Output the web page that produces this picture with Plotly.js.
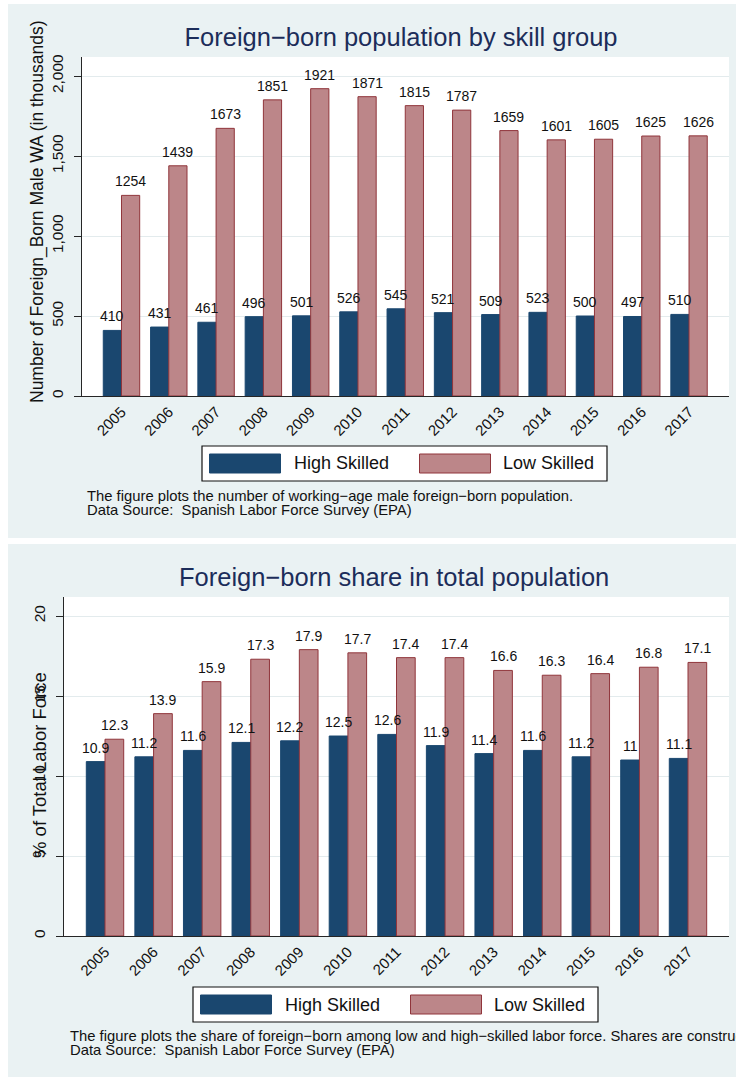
<!DOCTYPE html>
<html>
<head>
<meta charset="utf-8">
<script src="https://cdn.plot.ly/plotly-3.0.1.min.js"></script>
<style>html,body{margin:0;padding:0;background:#ffffff;}</style>
</head>
<body>
<div id="chart" style="width:736px;height:1077px;"></div>
<script>
// ---------- data ----------
const years = [2005, 2006, 2007, 2008, 2009, 2010, 2011, 2012, 2013, 2014, 2015, 2016, 2017];
const seriesNames = ['High Skilled', 'Low Skilled'];
const popHigh = [410, 431, 461, 496, 501, 526, 545, 521, 509, 523, 500, 497, 510];
const popLow = [1254, 1439, 1673, 1851, 1921, 1871, 1815, 1787, 1659, 1601, 1605, 1625, 1626];
const shareHigh = [10.9, 11.2, 11.6, 12.1, 12.2, 12.5, 12.6, 11.9, 11.4, 11.6, 11.2, 11, 11.1];
const shareLow = [12.3, 13.9, 15.9, 17.3, 17.9, 17.7, 17.4, 17.4, 16.6, 16.3, 16.4, 16.8, 17.1];
const popTicks = [0, 500, 1000, 1500, 2000];
const shareTicks = [0, 5, 10, 15, 20];
const yearLabels = years.map(String);
const panelTitles = ['Foreign\u2212born population by skill group', 'Foreign\u2212born share in total population'];
const yTitles = ['Number of Foreign_Born Male WA (in thousands)', '% of Total Labor Force'];
const noteLines = [
  ['The figure plots the number of working\u2212age male foreign\u2212born population.',
   'Data Source:\u00a0 Spanish Labor Force Survey (EPA)'],
  ['The figure plots the share of foreign\u2212born among low and high\u2212skilled labor force. Shares are constructed',
   'Data Source:\u00a0 Spanish Labor Force Survey (EPA)']
];

// ---------- style ----------
const W = 736, H = 1077;
const px = v => v / W;
const py = v => 1 - v / H;
const FONT = 'Liberation Sans, Arial, Helvetica, sans-serif';
const NAVY = '#1a476f';
const PINK = '#bc8689';
const MAROON = '#90353b';
const PANEL = '#eaf2f3';
const GRID = '#e3ebed';
const AXIS = '#262626';
const TITLE = '#1c2d5a';
const BARGAP = 0.23;
const OFF = (1 - BARGAP) / 4;

function bars(xa, ya, hi, lo) {
  return [
    {type: 'bar', x: years, y: hi, xaxis: xa, yaxis: ya, name: seriesNames[0],
     marker: {color: NAVY, line: {color: NAVY, width: 1}}, showlegend: false, hoverinfo: 'skip'},
    {type: 'bar', x: years, y: lo, xaxis: xa, yaxis: ya, name: seriesNames[1],
     marker: {color: PINK, line: {color: MAROON, width: 1}}, showlegend: false, hoverinfo: 'skip'}
  ];
}

function valueLabels(xref, yref, vals, offset) {
  return years.map((yr, i) => ({
    x: yr + offset, y: vals[i], xref: xref, yref: yref, text: String(vals[i]),
    showarrow: false, xanchor: 'center', yanchor: 'bottom', yshift: 4,
    font: {family: FONT, size: 14, color: '#111111'}
  }));
}

function xAxis(domain, range, anchor) {
  return {
    domain: domain, range: range, anchor: anchor,
    tickmode: 'array', tickvals: years, ticktext: yearLabels, tickangle: -45,
    ticks: '', showgrid: false, zeroline: false,
    showline: true, linecolor: AXIS, linewidth: 1.3,
    tickfont: {family: FONT, size: 15, color: '#111111'}, fixedrange: true
  };
}
function yAxis(domain, range, ticks, anchor) {
  return {
    domain: domain, range: range, anchor: anchor,
    tickmode: 'array', tickvals: ticks, tickformat: ',', tickangle: -90,
    ticks: 'outside', ticklen: 7, tickcolor: AXIS, tickwidth: 1,
    ticklabelstandoff: 5,
    showgrid: true, gridcolor: GRID, gridwidth: 1, zeroline: false,
    showline: true, linecolor: AXIS, linewidth: 1,
    tickfont: {family: FONT, size: 15.5, color: '#111111'}, fixedrange: true
  };
}

// legend drawn as boxes + labels for each panel
function legendParts(cx, top) {
  const shapes = [
    {type: 'rect', xref: 'paper', yref: 'paper', x0: px(cx - 202.5), x1: px(cx + 202.5), y0: py(top + 35), y1: py(top),
     fillcolor: '#ffffff', line: {color: '#111111', width: 1.2}},
    {type: 'rect', xref: 'paper', yref: 'paper', x0: px(cx - 195), x1: px(cx - 124), y0: py(top + 27), y1: py(top + 8),
     fillcolor: NAVY, line: {color: NAVY, width: 1}},
    {type: 'rect', xref: 'paper', yref: 'paper', x0: px(cx + 15), x1: px(cx + 86), y0: py(top + 27), y1: py(top + 8),
     fillcolor: PINK, line: {color: MAROON, width: 1}}
  ];
  const annos = [
    {xref: 'paper', yref: 'paper', x: px(cx - 113), y: py(top + 17.5), text: seriesNames[0], showarrow: false,
     xanchor: 'left', yanchor: 'middle', font: {family: FONT, size: 18, color: '#111111'}},
    {xref: 'paper', yref: 'paper', x: px(cx + 96), y: py(top + 17.5), text: seriesNames[1], showarrow: false,
     xanchor: 'left', yanchor: 'middle', font: {family: FONT, size: 18, color: '#111111'}}
  ];
  return {shapes, annos};
}

const data = [].concat(bars('x', 'y', popHigh, popLow), bars('x2', 'y2', shareHigh, shareLow));

const leg1 = legendParts(404.5, 446);
const leg2 = legendParts(395.5, 987);

const NOTE_FONT = {family: FONT, size: 14.8, color: '#111111'};
const annotations = [].concat(
  valueLabels('x', 'y', popHigh, -OFF),
  valueLabels('x', 'y', popLow, OFF),
  valueLabels('x2', 'y2', shareHigh, -OFF),
  valueLabels('x2', 'y2', shareLow, OFF),
  [
    {xref: 'paper', yref: 'paper', x: px(394), y: py(577), text: panelTitles[1], showarrow: false,
     xanchor: 'center', yanchor: 'middle', font: {family: FONT, size: 25.5, color: TITLE}},
    {xref: 'paper', yref: 'paper', x: px(37), y: py(212), text: yTitles[0], showarrow: false, textangle: -90,
     xanchor: 'center', yanchor: 'middle', font: {family: FONT, size: 17.5, color: '#111111'}},
    {xref: 'paper', yref: 'paper', x: px(39), y: py(765), text: yTitles[1], showarrow: false, textangle: -90,
     xanchor: 'center', yanchor: 'middle', font: {family: FONT, size: 18.5, color: '#111111'}},
    {xref: 'paper', yref: 'paper', x: px(85), y: py(496), text: noteLines[0][0], showarrow: false,
     xanchor: 'left', yanchor: 'middle', font: NOTE_FONT},
    {xref: 'paper', yref: 'paper', x: px(85), y: py(510), text: noteLines[0][1], showarrow: false,
     xanchor: 'left', yanchor: 'middle', font: NOTE_FONT},
    {xref: 'paper', yref: 'paper', x: px(68), y: py(1036), text: noteLines[1][0], showarrow: false,
     xanchor: 'left', yanchor: 'middle', font: NOTE_FONT},
    {xref: 'paper', yref: 'paper', x: px(68), y: py(1050), text: noteLines[1][1], showarrow: false,
     xanchor: 'left', yanchor: 'middle', font: NOTE_FONT}
  ],
  leg1.annos, leg2.annos
);

const shapes = [
  // white page areas around the two graph panels
  {type: 'rect', xref: 'paper', yref: 'paper', x0: 0, x1: 1, y0: py(4), y1: 1, fillcolor: '#ffffff', line: {width: 0}, layer: 'below'},
  {type: 'rect', xref: 'paper', yref: 'paper', x0: 0, x1: px(8), y0: 0, y1: 1, fillcolor: '#ffffff', line: {width: 0}, layer: 'below'},
  {type: 'rect', xref: 'paper', yref: 'paper', x0: 0, x1: 1, y0: py(544), y1: py(538), fillcolor: '#ffffff', line: {width: 0}, layer: 'below'}
].concat(leg1.shapes, leg2.shapes);

const layout = {
  width: W, height: H,
  margin: {l: 0, r: 0, t: 0, b: 0, pad: 0},
  paper_bgcolor: PANEL, plot_bgcolor: '#ffffff',
  font: {family: FONT, color: '#111111'},
  showlegend: false,
  barmode: 'group', bargap: BARGAP, bargroupgap: 0,
  title: {text: panelTitles[0], x: px(401), y: py(37), xref: 'paper', yref: 'paper',
          xanchor: 'center', yanchor: 'middle', font: {family: FONT, size: 25.5, color: TITLE}},
  xaxis: xAxis([px(82), px(729)], [2004.165, 2017.845], 'y'),
  yaxis: yAxis([py(396), py(57)], [0, 2119], popTicks, 'x'),
  xaxis2: xAxis([px(64), px(729)], [2004.156, 2017.844], 'y2'),
  yaxis2: yAxis([py(936), py(597)], [0, 21.19], shareTicks, 'x2'),
  annotations: annotations,
  shapes: shapes
};

Plotly.newPlot('chart', data, layout, {displayModeBar: false, staticPlot: true});
</script>
</body>
</html>
